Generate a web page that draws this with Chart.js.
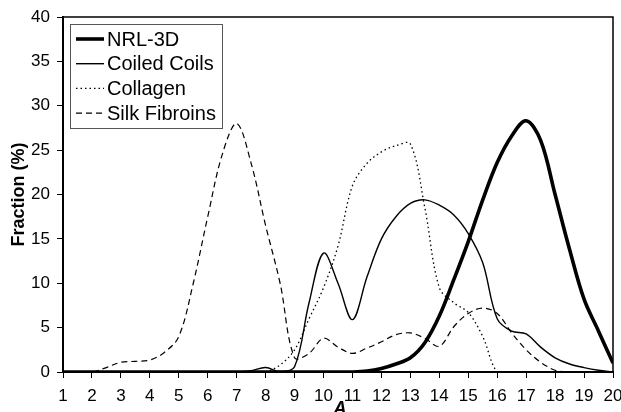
<!DOCTYPE html>
<html>
<head>
<meta charset="utf-8">
<script src="https://cdn.jsdelivr.net/npm/chart.js@4.4.1/dist/chart.umd.min.js"></script>
<style>
  html, body { margin: 0; padding: 0; background: #fff; }
  #wrap { width: 621px; height: 412px; position: relative; }
</style>
</head>
<body>
<div id="wrap"><canvas id="chart"></canvas></div>
<script>
// x positions (A), half steps
const aValues = [1, 1.5, 2, 2.5, 3, 3.5, 4, 4.5, 5, 5.5, 6, 6.5, 7, 7.5, 8, 8.5, 9, 9.5, 10, 10.5,
                 11, 11.5, 12, 12.5, 13, 13.5, 14, 14.5, 15, 15.5, 16, 16.5, 17, 17.5, 18, 18.5, 19, 19.5, 20];

const nrl3d = [0, 0, 0, 0, 0, 0, 0, 0, 0, 0, 0, 0, 0, 0, 0, 0, 0, 0, 0, 0,
               0, 0.1, 0.4, 0.9, 1.6, 3.3, 6.3, 10.4, 14.7, 19.4, 23.6, 26.6, 28.3, 26.1, 20, 13.8, 8.2, 4.6, 1.0];

const coiledCoils = [0, 0, 0, 0, 0, 0, 0, 0, 0, 0, 0, 0, 0, 0.15, 0.5, 0.05, 0.6, 7.8, 13.4, 10,
                     5.9, 10.7, 15, 17.5, 19, 19.4, 18.8, 17.7, 15.6, 12.3, 6, 4.6, 4.3, 2.8, 1.6, 0.9, 0.5, 0.2, 0];

const collagen = [0, 0, 0, 0, 0, 0, 0, 0, 0, 0, 0, 0, 0, 0, 0, 0.8, 2.5, 6, 9.5, 14.2,
                  21, 23.5, 24.8, 25.5, 25.7, 18.5, 9.5, 7.8, 6.7, 4.0, 0, 0, 0, 0, 0, 0, 0, 0, 0];

const silkFibroins = [0, 0, 0, 0.5, 1.1, 1.2, 1.35, 2.2, 4, 10, 17.5, 24.5, 28, 23.5, 16.5, 10, 1.6, 2.1, 3.8, 2.8,
                      2.1, 2.7, 3.4, 4.2, 4.4, 3.8, 2.9, 5.1, 6.6, 7.2, 6.6, 4.4, 2.5, 1.1, 0.2, 0, 0, 0, 0];

const seriesNames = ['NRL-3D', 'Coiled Coils', 'Collagen', 'Silk Fibroins'];
const xTicks = [1, 20];     // x range
const yTicks = [0, 40, 5];  // min, max, step

const FONT = '"Liberation Sans", Arial, sans-serif';

function pts(vals) {
    return aValues.map((a, i) => ({ x: a, y: vals[i] }));
}

// legend box drawn inside the plot, plus top/right frame and the "A" title
const extras = {
    id: 'extras',
    afterDraw(chart) {
        const ctx = chart.ctx;
        const area = chart.chartArea;
        ctx.save();

        // frame top / right
        ctx.strokeStyle = '#000';
        ctx.lineWidth = 1.5;
        ctx.beginPath();
        ctx.moveTo(area.left, area.top);
        ctx.lineTo(area.right, area.top);
        ctx.lineTo(area.right, area.bottom);
        ctx.stroke();

        // legend
        const bx = area.left + 7, by = area.top + 7;
        const bw = 152, bh = 104;
        ctx.fillStyle = '#fff';
        ctx.fillRect(bx, by, bw, bh);
        ctx.strokeStyle = '#555';
        ctx.lineWidth = 1;
        ctx.strokeRect(bx + 0.5, by + 0.5, bw, bh);

        ctx.font = '20px ' + FONT;
        ctx.textBaseline = 'middle';
        ctx.textAlign = 'left';
        chart.data.datasets.forEach((ds, i) => {
            const y = by + 15 + i * 24.7;
            ctx.strokeStyle = '#000';
            ctx.lineWidth = ds.borderWidth;
            ctx.setLineDash(ds.borderDash || []);
            ctx.beginPath();
            ctx.moveTo(bx + 6, y);
            ctx.lineTo(bx + 34, y);
            ctx.stroke();
            ctx.setLineDash([]);
            ctx.fillStyle = '#000';
            ctx.fillText(ds.label, bx + 37, y + 1);
        });

        // x axis title
        ctx.font = 'italic bold 18px ' + FONT;
        ctx.textAlign = 'center';
        ctx.textBaseline = 'alphabetic';
        ctx.fillStyle = '#000';
        ctx.fillText('A', (area.left + area.right) / 2 + 2, 414);
        ctx.restore();
    }
};

const ctx = document.getElementById('chart').getContext('2d');
const chart = new Chart(ctx, {
    type: 'line',
    data: {
        datasets: [
            { label: seriesNames[0], data: pts(nrl3d), borderColor: '#000', borderWidth: 3.6 },
            { label: seriesNames[1], data: pts(coiledCoils), borderColor: '#000', borderWidth: 1.4 },
            { label: seriesNames[2], data: pts(collagen), borderColor: '#000', borderWidth: 1.3, borderDash: [1.5, 3] },
            { label: seriesNames[3], data: pts(silkFibroins), borderColor: '#000', borderWidth: 1.2, borderDash: [6, 4] }
        ]
    },
    options: {
        responsive: true,
        maintainAspectRatio: false,
        animation: false,
        layout: { padding: { left: 0, right: 8, top: 17, bottom: 0 } },
        elements: {
            point: { radius: 0 },
            line: { tension: 0.35, fill: false }
        },
        plugins: {
            legend: { display: false },
            tooltip: { enabled: false }
        },
        scales: {
            x: {
                type: 'linear',
                min: xTicks[0],
                max: xTicks[1],
                afterFit: (s) => { s.height = 40; s.paddingLeft = 0; s.paddingRight = 0; },
                ticks: { stepSize: 1, color: '#000', padding: 8, font: { family: FONT, size: 17 }, maxRotation: 0 },
                grid: { drawOnChartArea: false, drawTicks: true, tickLength: 6, color: '#000' },
                border: { color: '#000', width: 2 }
            },
            y: {
                min: yTicks[0],
                max: yTicks[1],
                afterFit: (s) => { s.width = 63; s.paddingTop = 0; s.paddingBottom = 0; },
                ticks: { stepSize: yTicks[2], color: '#000', padding: 7, font: { family: FONT, size: 17 } },
                grid: { drawOnChartArea: false, drawTicks: true, tickLength: 6, color: '#000' },
                border: { color: '#000', width: 2 },
                title: {
                    display: true,
                    text: 'Fraction (%)',
                    color: '#000',
                    padding: { top: 8, bottom: 0 },
                    font: { family: FONT, size: 18, weight: 'bold' }
                }
            }
        }
    },
    plugins: [extras]
});
</script>
</body>
</html>
